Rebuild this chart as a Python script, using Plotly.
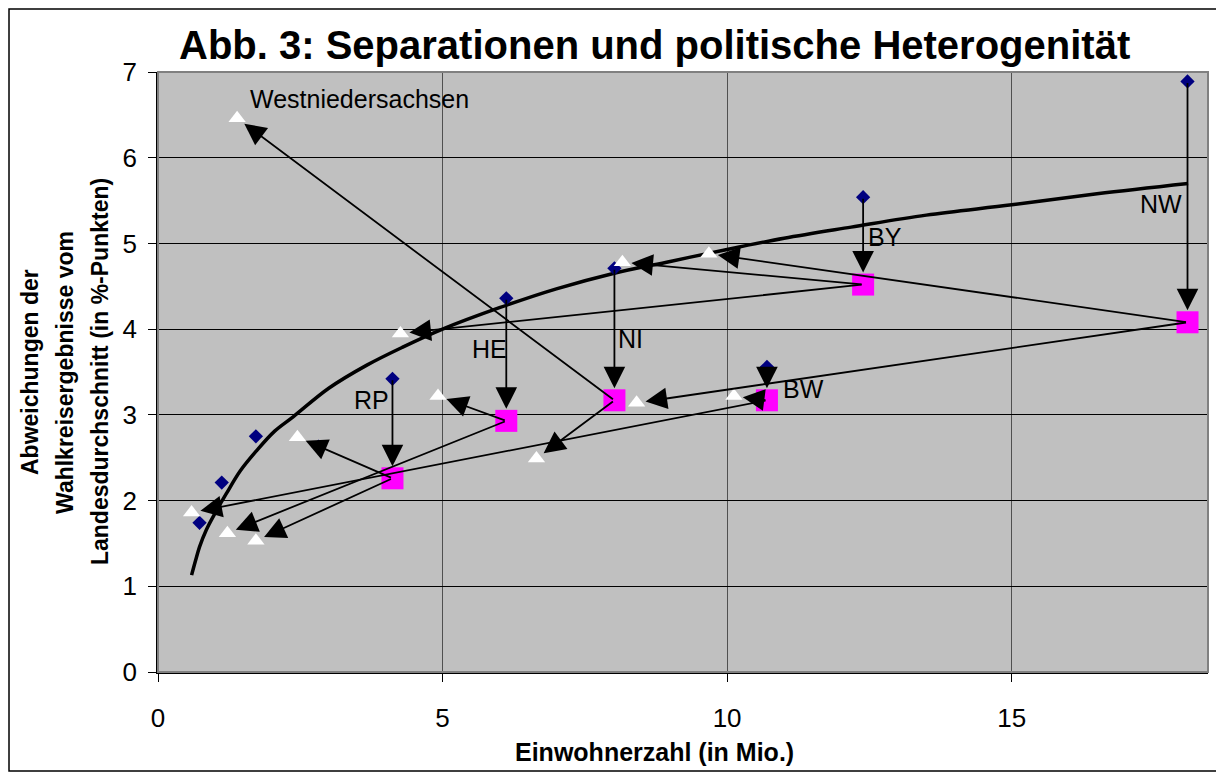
import plotly.graph_objects as go

# ---------------- data ----------------
# states that are split (diamond = before, square = after)
states = ["RP", "HE", "NI", "BW", "BY", "NW"]
state_pop = [4.12, 6.12, 8.02, 10.70, 12.39, 18.09]
dev_before = [3.42, 4.36, 4.71, 3.56, 5.54, 6.89]
dev_after = [2.26, 2.93, 3.17, 3.17, 4.52, 4.08]

# small states without separation (diamonds only)
small_pop = [0.73, 1.12, 1.72, 2.82]
small_dev = [1.74, 2.21, 2.75, 2.63]

# newly created states (triangles) and the state they come from
new_pop = [2.45, 1.72, 4.92, 1.22, 1.39, 6.65, 10.12, 0.59, 8.16, 4.26, 9.68, 8.41]
new_dev = [2.74, 1.53, 3.22, 1.62, 6.46, 2.49, 3.22, 1.86, 4.78, 3.95, 4.88, 3.14]
new_from = ["RP", "RP", "HE", "HE", "NI", "NI", "BW", "BW", "BY", "BY", "NW", "NW"]

# logarithmic trend line
curve_x = [0.59, 0.66, 0.73, 0.85, 1.0, 1.2, 1.45, 1.73, 2.05, 2.38, 3.0, 3.67, 4.3,
           5.0, 6.0, 7.0, 8.0, 9.0, 10.0, 11.0, 12.18, 13.5, 15.0, 16.5, 18.1]
curve_y = [1.13, 1.30, 1.46, 1.66, 1.85, 2.08, 2.35, 2.58, 2.81, 2.98, 3.31, 3.58, 3.79,
           4.00, 4.25, 4.47, 4.65, 4.79, 4.93, 5.06, 5.19, 5.33, 5.45, 5.58, 5.70]

# label positions
label_x = [3.76, 5.82, 8.30, 11.35, 12.78, 17.62]
label_y = [3.17, 3.77, 3.88, 3.30, 5.07, 5.46]
special_label = "Westniedersachsen"
special_x, special_y = 1.58, 6.69

x_ticks = [0, 5, 10, 15]
y_ticks = [0, 1, 2, 3, 4, 5, 6, 7]

title_text = "Abb. 3: Separationen und politische Heterogenität"
x_title = "Einwohnerzahl (in Mio.)"
y_title_lines = ["Abweichungen der", "Wahlkreisergebnisse vom", "Landesdurchschnitt (in %-Punkten)"]

FONT = "Liberation Sans, Arial, sans-serif"

fig = go.Figure()

fig.add_trace(go.Scatter(x=curve_x, y=curve_y, mode="lines",
                         line=dict(color="black", width=3.5, shape="spline"),
                         hoverinfo="skip", showlegend=False))

fig.add_trace(go.Scatter(x=small_pop + state_pop, y=small_dev + dev_before, mode="markers",
                         marker=dict(symbol="diamond", size=11, color="#000080"),
                         showlegend=False))

fig.add_trace(go.Scatter(x=new_pop, y=new_dev, mode="markers",
                         marker=dict(symbol="triangle-up", size=15, color="white"),
                         showlegend=False))

fig.add_trace(go.Scatter(x=state_pop, y=dev_after, mode="markers",
                         marker=dict(symbol="square", size=22, color="#FF00FF"),
                         showlegend=False))

annotations = []
arrow_style = dict(showarrow=True, arrowhead=2, arrowsize=2.4, arrowwidth=1.8,
                   arrowcolor="black", axref="x", ayref="y", xref="x", yref="y", text="")

# arrows from split state (square) to new states (triangles)
for px, py, src in zip(new_pop, new_dev, new_from):
    i = states.index(src)
    annotations.append(dict(x=px, y=py, ax=state_pop[i], ay=dev_after[i], standoff=9, **arrow_style))

# vertical arrows from before (diamond) to after (square)
for sx, b, a in zip(state_pop, dev_before, dev_after):
    annotations.append(dict(x=sx, y=a, ax=sx, ay=b, standoff=12, **arrow_style))

# state labels
for name, lx, ly in zip(states, label_x, label_y):
    annotations.append(dict(x=lx, y=ly, xref="x", yref="y", text=name, showarrow=False,
                            xanchor="center", yanchor="middle",
                            font=dict(family=FONT, size=25, color="black")))
annotations.append(dict(x=special_x, y=special_y, xref="x", yref="y", text=special_label,
                        showarrow=False, xanchor="left", yanchor="middle",
                        font=dict(family=FONT, size=25, color="black")))

# title and axis titles
annotations.append(dict(x=0.4724, y=1.045, xref="paper", yref="paper", showarrow=False,
                        xanchor="center", yanchor="middle",
                        text="<b>" + title_text + "</b>",
                        font=dict(family=FONT, size=40, color="black")))
annotations.append(dict(x=0.4724, y=-0.1333, xref="paper", yref="paper", showarrow=False,
                        xanchor="center", yanchor="middle",
                        text="<b>" + x_title + "</b>",
                        font=dict(family=FONT, size=25, color="black")))
for line_text, lx in zip(y_title_lines, [-0.1219, -0.0886, -0.0552]):
    annotations.append(dict(x=lx, y=0.5, xref="paper", yref="paper", showarrow=False,
                            xanchor="center", yanchor="middle", textangle=-90,
                            text="<b>" + line_text + "</b>",
                            font=dict(family=FONT, size=23, color="black")))

shapes = [
    dict(type="rect", xref="paper", yref="paper", x0=0, x1=1, y0=0, y1=1,
         line=dict(color="#808080", width=2), layer="above"),
    dict(type="rect", xref="paper", yref="paper", x0=-0.1419, x1=1.0133, y0=-0.165, y1=1.105,
         line=dict(color="black", width=1.5), layer="above"),
]

# the page adds an 8px body margin, so the figure is 8px smaller than the window
fig.update_layout(
    width=1216, height=765,
    margin=dict(l=150, r=16, t=64, b=101),
    paper_bgcolor="white", plot_bgcolor="#C0C0C0",
    font=dict(family=FONT, color="black"),
    annotations=annotations, shapes=shapes, showlegend=False,
    xaxis=dict(range=[0, 18.45], tickvals=x_ticks, showgrid=True, gridcolor="#505050", gridwidth=1,
               zeroline=False, showline=True, linecolor="black", linewidth=2,
               ticks="outside", ticklen=8, tickcolor="black",
               tickfont=dict(family=FONT, size=26), ticklabelstandoff=14),
    yaxis=dict(range=[0, 7], tickvals=y_ticks, showgrid=True, gridcolor="black", gridwidth=1,
               zeroline=False, showline=True, linecolor="black", linewidth=1.5,
               ticks="outside", ticklen=8, tickcolor="black",
               tickfont=dict(family=FONT, size=26), ticklabelstandoff=6),
)

fig.write_html("out.html")
